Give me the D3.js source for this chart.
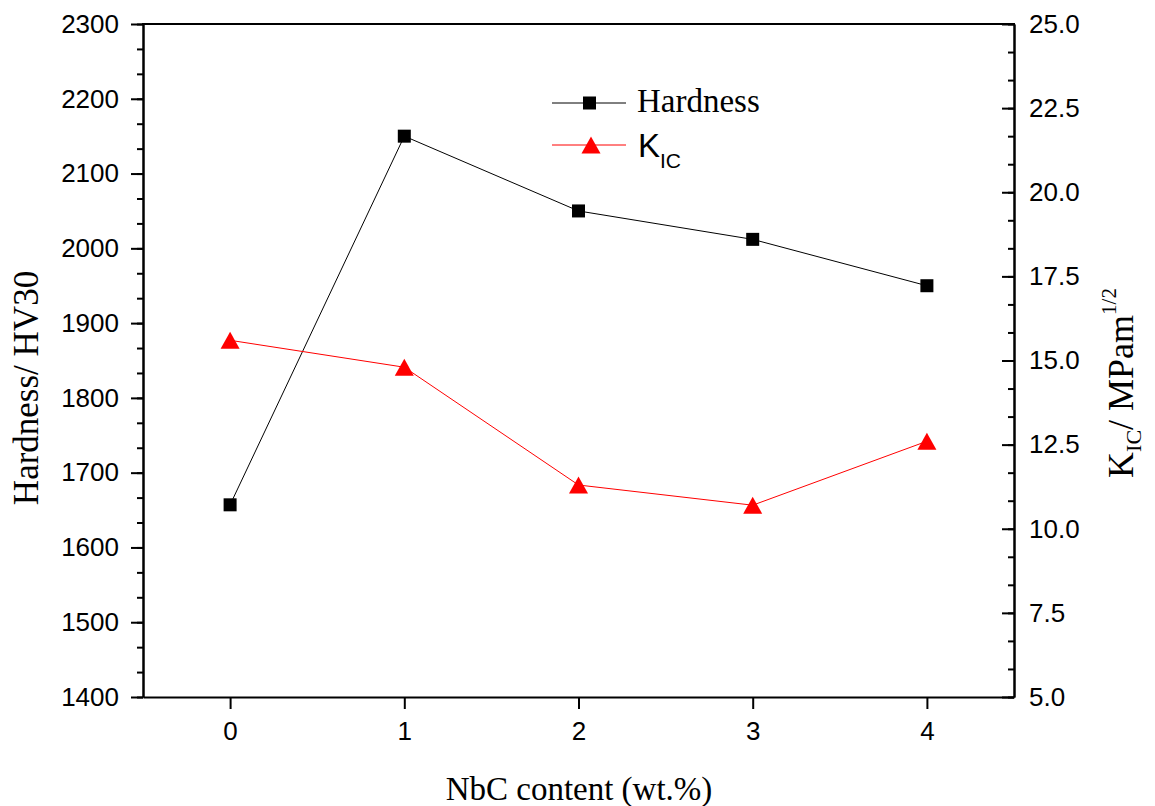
<!DOCTYPE html>
<html><head><meta charset="utf-8">
<script src="https://cdn.jsdelivr.net/npm/d3@7"></script>
<style>body{margin:0;background:#fff}</style>
</head><body>
<svg id="c" width="1155" height="806"></svg>
<script>
const nbc = [0, 1, 2, 3, 4];
const hardness = [1657, 2150, 2050, 2012, 1950];
const kic = [15.6, 14.8, 11.3, 10.7, 12.6];
const xTicks = [0, 1, 2, 3, 4];
const leftTicks = [1400, 1500, 1600, 1700, 1800, 1900, 2000, 2100, 2200, 2300];
const rightTicks = [5.0, 7.5, 10.0, 12.5, 15.0, 17.5, 20.0, 22.5, 25.0];

const L = 143, R = 1014, T = 24, B = 697;
const svg = d3.select("#c");
const x = d3.scaleLinear().domain([-0.5, 4.5]).range([L, R]);
const yL = d3.scaleLinear().domain([1400, 2300]).range([B, T]);
const yR = d3.scaleLinear().domain([5, 25]).range([B, T]);

const sans = "'Liberation Sans', Arial, sans-serif";
const serif = "'Liberation Serif', 'Times New Roman', serif";

function styleAxis(g) {
  g.selectAll("path.domain").attr("stroke", "#000").attr("stroke-width", 2);
  g.selectAll(".tick line").attr("stroke", "#000").attr("stroke-width", 2);
  g.selectAll(".tick text").attr("font-family", sans).attr("font-size", 26).attr("fill", "#000");
}

// minor ticks (3 subdivisions per major)
const leftMinor = d3.range(1400, 2300.001, 100 / 3);
const rightMinor = d3.range(5, 25.001, 2.5 / 3);

svg.append("g").attr("transform", `translate(${L},0)`)
  .call(d3.axisLeft(yL).tickValues(leftMinor).tickSize(6).tickSizeOuter(0).tickFormat(""))
  .call(styleAxis);
svg.append("g").attr("transform", `translate(${R},0)`)
  .call(d3.axisRight(yR).tickValues(rightMinor).tickSizeInner(-6).tickSizeOuter(0).tickFormat(""))
  .call(styleAxis);

svg.append("g").attr("transform", `translate(${L},0)`)
  .call(d3.axisLeft(yL).tickValues(leftTicks).tickSize(12).tickSizeOuter(0).tickPadding(12).tickFormat(d3.format("d")))
  .call(styleAxis);
svg.append("g").attr("transform", `translate(${R},0)`)
  .call(d3.axisRight(yR).tickValues(rightTicks).tickSizeInner(-12).tickSizeOuter(0).tickPadding(15).tickFormat(d3.format(".1f")))
  .call(styleAxis);
svg.append("g").attr("transform", `translate(0,${B})`)
  .call(d3.axisBottom(x).tickValues(xTicks).tickSize(12).tickSizeOuter(0).tickPadding(13).tickFormat(d3.format("d")))
  .call(styleAxis);
// top frame line
svg.append("line").attr("x1", L - 1).attr("x2", R + 1).attr("y1", T).attr("y2", T)
  .attr("stroke", "#000").attr("stroke-width", 2);

// series lines
const lineH = d3.line().x((d, i) => x(nbc[i])).y(d => yL(d));
const lineK = d3.line().x((d, i) => x(nbc[i])).y(d => yR(d));
svg.append("path").attr("d", lineH(hardness)).attr("fill", "none").attr("stroke", "#000").attr("stroke-width", 1);
svg.append("path").attr("d", lineK(kic)).attr("fill", "none").attr("stroke", "#ff0000").attr("stroke-width", 1);

function tri(cx, cy) {
  const w = 9.5, h = 8.5;
  return `M${cx},${cy - h}L${cx + w},${cy + h}L${cx - w},${cy + h}Z`;
}
svg.selectAll("rect.h").data(hardness).enter().append("rect")
  .attr("x", (d, i) => x(nbc[i]) - 6.5).attr("y", d => yL(d) - 6.5)
  .attr("width", 13).attr("height", 13).attr("fill", "#000");
svg.selectAll("path.k").data(kic).enter().append("path")
  .attr("d", (d, i) => tri(x(nbc[i]), yR(d))).attr("fill", "#ff0000");

// legend
const lg = svg.append("g");
lg.append("line").attr("x1", 552).attr("x2", 626).attr("y1", 103).attr("y2", 103).attr("stroke", "#000").attr("stroke-width", 1);
lg.append("rect").attr("x", 583).attr("y", 96.5).attr("width", 13).attr("height", 13).attr("fill", "#000");
lg.append("text").attr("x", 637).attr("y", 112).attr("font-family", serif).attr("font-size", 33).text("Hardness");
lg.append("line").attr("x1", 552).attr("x2", 626).attr("y1", 145).attr("y2", 145).attr("stroke", "#ff0000").attr("stroke-width", 1);
lg.append("path").attr("d", tri(591, 145)).attr("fill", "#ff0000");
const kt = lg.append("text").attr("x", 638).attr("y", 157).attr("font-family", sans).attr("font-size", 33);
kt.append("tspan").text("K");
kt.append("tspan").attr("font-size", 21).attr("dy", 11).text("IC");

// axis titles
svg.append("text").attr("transform", "translate(38,388) rotate(-90)")
  .attr("text-anchor", "middle").attr("font-family", serif).attr("font-size", 35).text("Hardness/ HV30");
svg.append("text").attr("x", 579).attr("y", 800)
  .attr("text-anchor", "middle").attr("font-family", serif).attr("font-size", 33).text("NbC content (wt.%)");
const rt = svg.append("text").attr("transform", "translate(1133,383) rotate(-90)")
  .attr("text-anchor", "middle").attr("font-family", serif).attr("font-size", 36);
rt.append("tspan").text("K");
rt.append("tspan").attr("font-size", 22).attr("dy", 8).text("IC");
rt.append("tspan").attr("dy", -8).text("/ MPam");
rt.append("tspan").attr("font-size", 21).attr("dy", -17).text("1/2");
</script>
</body></html>
